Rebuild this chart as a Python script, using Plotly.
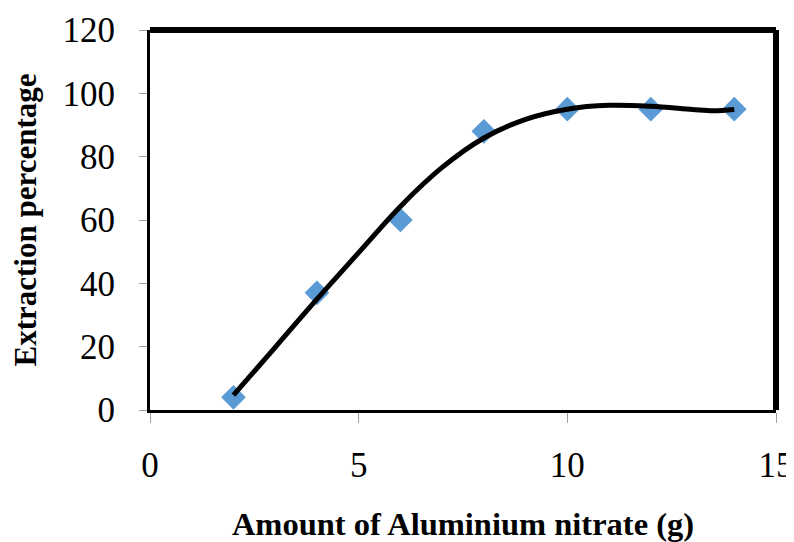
import plotly.graph_objects as go

# Measured data (markers)
amount_g = [2, 4, 6, 8, 10, 12, 14]
extraction_pct = [4, 37, 60, 88, 95, 95, 95]

# Smooth curve
curve_x = [2, 3, 4, 5, 6, 7, 8, 9, 10, 11, 12, 13, 13.5, 14]
curve_y = [4.7, 19.8, 35.0, 49.7, 64.3, 76.6, 85.9, 91.8, 95.0, 96.2, 95.9, 94.9, 94.5, 94.9]

x_ticks = [0, 5, 10, 15]
y_ticks = [0, 20, 40, 60, 80, 100, 120]

font_family = "Liberation Serif, Times New Roman, serif"

fig = go.Figure()
fig.add_trace(go.Scatter(
    x=amount_g, y=extraction_pct, mode="markers",
    marker=dict(symbol="diamond", size=19, color="#5B9BD5", line=dict(width=0)),
    showlegend=False, cliponaxis=False,
))
fig.add_trace(go.Scatter(
    x=curve_x, y=curve_y, mode="lines",
    line=dict(color="black", width=5, shape="spline", smoothing=1.0),
    showlegend=False,
))

fig.update_layout(
    width=786, height=534,
    margin=dict(l=142, r=18, t=22, b=132),
    paper_bgcolor="white", plot_bgcolor="white",
    font=dict(family=font_family, color="black"),
    xaxis=dict(
        range=[0, 15], tickvals=x_ticks, showgrid=False, zeroline=False,
        automargin=False,
        showline=True, linecolor="black", linewidth=3,
        ticks="outside", ticklen=10, tickcolor="#a0a0a0", tickwidth=1,
        tickfont=dict(size=35, family=font_family),
        ticklabelstandoff=12,
        title=dict(text="<b>Amount of Aluminium nitrate (g)</b>",
                   font=dict(size=32.5, family=font_family), standoff=29),
    ),
    yaxis=dict(
        range=[0, 120], tickvals=y_ticks, showgrid=False, zeroline=False,
        automargin=False,
        showline=True, linecolor="black", linewidth=3,
        ticks="outside", ticklen=8, tickcolor="#a0a0a0", tickwidth=1,
        tickfont=dict(size=35, family=font_family),
        ticklabelstandoff=17,
        title=dict(text="<b>Extraction percentage</b>",
                   font=dict(size=31, family=font_family), standoff=19),
    ),
    shapes=[
        dict(type="line", xref="paper", yref="paper", x0=0, x1=1, y0=1, y1=1,
             line=dict(color="black", width=6)),
        dict(type="line", xref="paper", yref="paper", x0=1, x1=1, y0=0, y1=1,
             line=dict(color="black", width=6)),
    ],
)

fig.write_html("out.html")
